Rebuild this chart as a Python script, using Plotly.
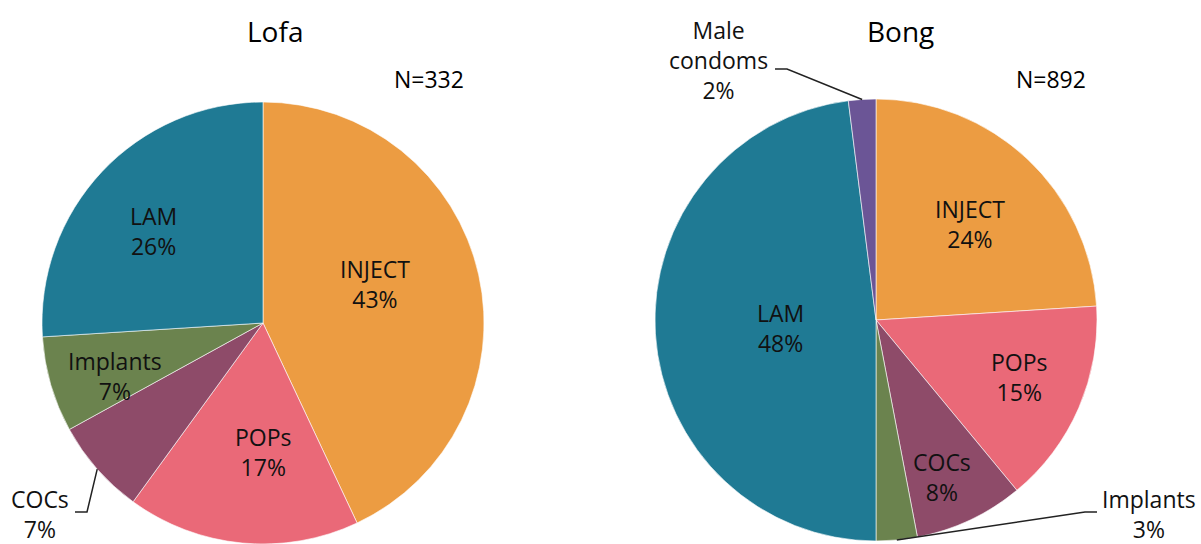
import math
import plotly.graph_objects as go

# ---- data ----
lofa_labels = ["INJECT", "POPs", "COCs", "Implants", "LAM"]
lofa_values = [43, 17, 7, 7, 26]
bong_labels = ["INJECT", "POPs", "COCs", "Implants", "LAM", "Male condoms"]
bong_values = [24, 15, 8, 3, 48, 2]
titles = ["Lofa", "Bong"]
n_labels = ["N=332", "N=892"]

colors = {
    "INJECT": "#EC9C42",
    "POPs": "#EA6978",
    "COCs": "#8E4B69",
    "Implants": "#6B834E",
    "LAM": "#1F7A94",
    "Male condoms": "#6B5596",
}

W, H = 1201, 544
FONT = "Open Sans"

def px(x):
    return x / W

def py(y):
    return 1 - y / H

# pie geometry (pixels): center x, center y, radius
geo = {
    "Lofa": (263, 323, 221),
    "Bong": (876, 320, 221),
}

fig = go.Figure()
for name, labels, values in [("Lofa", lofa_labels, lofa_values), ("Bong", bong_labels, bong_values)]:
    cx, cy, r = geo[name]
    fig.add_trace(go.Pie(
        labels=labels, values=values, sort=False, direction="clockwise", rotation=0,
        marker=dict(colors=[colors[l] for l in labels], line=dict(color="white", width=0.6)),
        textinfo="none", hoverinfo="label+percent", showlegend=False,
        domain=dict(x=[px(cx - r), px(cx + r)], y=[(H - cy - r) / H, (H - cy + r) / H]),
    ))

def edge_point(name, labels, values, label):
    cx, cy, r = geo[name]
    total = sum(values)
    i = labels.index(label)
    mid = (sum(values[:i]) + values[i] / 2) / total * 2 * math.pi
    return cx + r * math.sin(mid), cy - r * math.cos(mid)

# label placements (pixel centers)
lofa_pos = {"INJECT": (375, 284), "POPs": (263, 452), "LAM": (153, 231),
            "Implants": (115, 376), "COCs": (40, 514)}
bong_pos = {"INJECT": (970, 224), "POPs": (1019, 377), "COCs": (942, 477),
            "LAM": (780, 328), "Implants": (1149, 514), "Male condoms": (718, 60)}

annotations = []
for labels, values, pos in [(lofa_labels, lofa_values, lofa_pos), (bong_labels, bong_values, bong_pos)]:
    for l, v in zip(labels, values):
        x, y = pos[l]
        txt = l.replace(" ", "<br>") + f"<br>{v}%"
        annotations.append(dict(x=px(x), y=py(y), xref="paper", yref="paper", text=txt,
                                showarrow=False, align="center", xanchor="center", yanchor="middle",
                                font=dict(family=FONT, size=23, color="#111111")))

for t, (x, y) in zip(titles, [(275, 31), (900, 31)]):
    annotations.append(dict(x=px(x), y=py(y), xref="paper", yref="paper", text=t, showarrow=False,
                            xanchor="center", yanchor="middle",
                            font=dict(family=FONT, size=28, color="#000000", weight=500)))
for t, (x, y) in zip(n_labels, [(429, 79), (1051, 79)]):
    annotations.append(dict(x=px(x), y=py(y), xref="paper", yref="paper", text=t, showarrow=False,
                            xanchor="center", yanchor="middle",
                            font=dict(family=FONT, size=23, color="#000000", weight=500)))

# leader lines
leaders = [
    ("Lofa", lofa_labels, lofa_values, "COCs", [(87, 512), (75, 512)]),
    ("Bong", bong_labels, bong_values, "Male condoms", [(787, 69), (775, 69)]),
    ("Bong", bong_labels, bong_values, "Implants", [(1085, 512), (1097, 512)]),
]
shapes = []
for name, labels, values, l, pts in leaders:
    ex, ey = edge_point(name, labels, values, l)
    allpts = [(ex, ey)] + pts
    path = "M " + " L ".join(f"{px(a):.5f},{py(b):.5f}" for a, b in allpts)
    shapes.append(dict(type="path", path=path, xref="paper", yref="paper",
                       line=dict(color="#222222", width=1.5)))

fig.update_layout(
    width=W, height=H, margin=dict(l=0, r=0, t=0, b=0),
    paper_bgcolor="white", plot_bgcolor="white",
    annotations=annotations, shapes=shapes,
)
fig.write_html("out.html", config={"displayModeBar": False},
               post_script="document.body.style.margin='0px';document.body.style.overflow='hidden';")
